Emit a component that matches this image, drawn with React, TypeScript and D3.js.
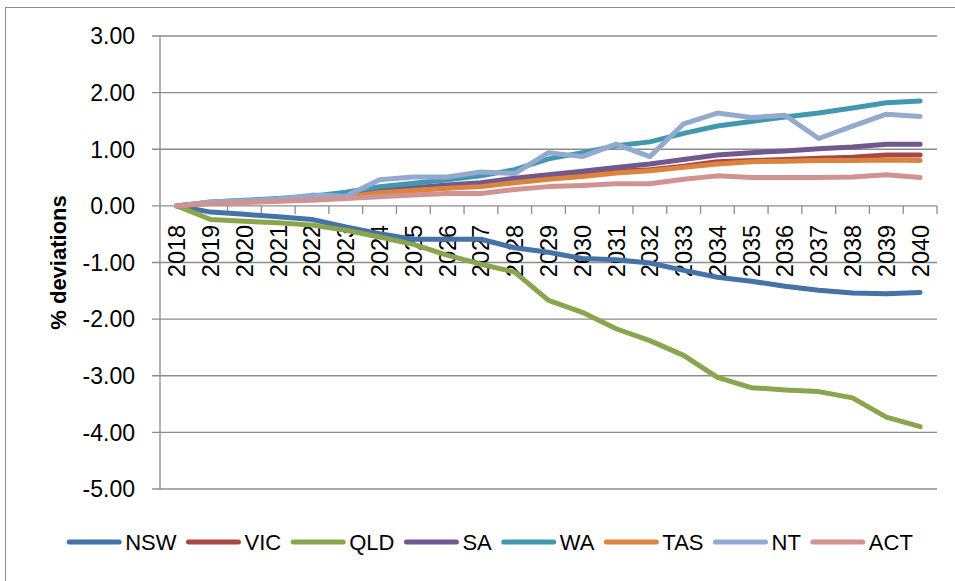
import React from "react";
import * as d3 from "d3";

const years = d3.range(2018, 2041).map(String);
const yTicks = [3, 2, 1, 0, -1, -2, -3, -4, -5];

const NSW = [0, -0.11, -0.15, -0.19, -0.24, -0.37, -0.49, -0.59, -0.59, -0.59, -0.74, -0.82, -0.93, -0.95, -1.01, -1.14, -1.26, -1.33, -1.42, -1.49, -1.54, -1.55, -1.53];
const VIC = [0, 0.05, 0.07, 0.09, 0.12, 0.17, 0.24, 0.28, 0.32, 0.36, 0.42, 0.49, 0.54, 0.61, 0.64, 0.7, 0.78, 0.8, 0.82, 0.84, 0.86, 0.9, 0.9];
const QLD = [0, -0.24, -0.27, -0.3, -0.34, -0.43, -0.55, -0.68, -0.87, -1.03, -1.17, -1.67, -1.88, -2.17, -2.38, -2.64, -3.03, -3.21, -3.25, -3.28, -3.39, -3.73, -3.9];
const SA = [0, 0.06, 0.08, 0.1, 0.13, 0.18, 0.27, 0.32, 0.37, 0.41, 0.49, 0.55, 0.61, 0.68, 0.74, 0.82, 0.9, 0.94, 0.97, 1.01, 1.04, 1.09, 1.09];
const WA = [0, 0.07, 0.1, 0.13, 0.17, 0.24, 0.34, 0.4, 0.46, 0.53, 0.64, 0.83, 0.94, 1.06, 1.13, 1.28, 1.41, 1.49, 1.57, 1.64, 1.73, 1.82, 1.85];
const TAS = [0, 0.05, 0.07, 0.09, 0.12, 0.16, 0.23, 0.27, 0.31, 0.34, 0.41, 0.47, 0.52, 0.58, 0.62, 0.68, 0.74, 0.78, 0.79, 0.8, 0.8, 0.81, 0.8];
const NT = [0, 0.07, 0.09, 0.12, 0.19, 0.17, 0.46, 0.51, 0.51, 0.6, 0.57, 0.94, 0.87, 1.09, 0.87, 1.45, 1.64, 1.56, 1.6, 1.19, 1.41, 1.62, 1.58];
const ACT = [0, 0.04, 0.06, 0.08, 0.1, 0.13, 0.16, 0.19, 0.22, 0.22, 0.29, 0.34, 0.36, 0.39, 0.39, 0.47, 0.53, 0.5, 0.5, 0.5, 0.51, 0.55, 0.5];

const seriesNames = ["NSW", "VIC", "QLD", "SA", "WA", "TAS", "NT", "ACT"];
const seriesValues = [NSW, VIC, QLD, SA, WA, TAS, NT, ACT];
const colors = ["#4572A7", "#AA4643", "#89A54E", "#71588F", "#4198AF", "#DB843D", "#93A9CF", "#D19392"];

const W = 955;
const H = 581;
const plot = { left: 160, right: 937, top: 36, bottom: 489 };
const tickFont = "'Liberation Sans', Arial, sans-serif";
const legendFont = "'Liberation Sans', Arial, sans-serif";
const legendSize = 22;

function measure(text: string, font: string): number {
  if (typeof document === "undefined") return text.length * 12;
  const c = document.createElement("canvas");
  const ctx = c.getContext("2d");
  if (!ctx) return text.length * 12;
  ctx.font = font;
  return ctx.measureText(text).width;
}

export default function App() {
  const x = d3.scaleBand<string>().domain(years).range([plot.left, plot.right]);
  const y = d3.scaleLinear().domain([-5, 3]).range([plot.bottom, plot.top]);
  const cx = (yr: string) => (x(yr) as number) + x.bandwidth() / 2;
  const line = d3
    .line<number>()
    .x((_, i) => cx(years[i]))
    .y((v) => y(v));
  const fmt = (t: number) => d3.format(".2f")(t).replace("\u2212", "-");

  // legend layout
  const lineLen = 54;
  const gapLineText = 4;
  const gapItems = 10;
  const widths = seriesNames.map((n) => measure(n, `${legendSize}px ${legendFont}`));
  const itemW = widths.map((w) => lineLen + gapLineText + w);
  const total = d3.sum(itemW) + gapItems * (seriesNames.length - 1);
  const legendCenter = 490;
  let lx = legendCenter - total / 2;
  const legendY = 542;
  const legendItems = seriesNames.map((n, i) => {
    const item = { name: n, x: lx, color: colors[i] };
    lx += itemW[i] + gapItems;
    return item;
  });

  const boundaries = d3.range(1, years.length + 1).map((k) => plot.left + k * x.bandwidth());
  const grid = "#8C8C8C";

  return (
    <svg
      width={W}
      height={H}
      style={{ position: "absolute", left: 0, top: 0, background: "#fff" }}
    >
      <rect x={0} y={0} width={W} height={H} fill="#fff" />
      <rect x={5.5} y={7.5} width={1000} height={1000} fill="none" stroke="#8C8C8C" strokeWidth={1} />
      {yTicks.map((t) => (
        <g key={t}>
          <line x1={plot.left - 8} x2={plot.right} y1={y(t)} y2={y(t)} stroke={grid} strokeWidth={1.3} />
          <text
            x={135}
            y={y(t)}
            dy="0.36em"
            textAnchor="end"
            fontFamily={tickFont}
            fontSize={23}
            fill="#000"
          >
            {fmt(t)}
          </text>
        </g>
      ))}
      <line x1={plot.left} x2={plot.left} y1={plot.top} y2={plot.bottom} stroke={grid} strokeWidth={1.3} />
      {boundaries.map((bx, i) => (
        <line key={i} x1={bx} x2={bx} y1={y(0)} y2={y(0) + 8} stroke={grid} strokeWidth={1.3} />
      ))}
      {years.map((yr) => (
        <text
          key={yr}
          transform={`translate(${cx(yr)},${y(0) + 19}) rotate(-90)`}
          dy="0.36em"
          textAnchor="end"
          fontFamily={tickFont}
          fontSize={23.5}
          fill="#000"
        >
          {yr}
        </text>
      ))}
      <text
        transform={`translate(66,${(plot.top + plot.bottom) / 2}) rotate(-90)`}
        textAnchor="middle"
        fontFamily={tickFont}
        fontWeight="bold"
        fontSize={22}
        fill="#000"
      >
        % deviations
      </text>
      {seriesValues.map((vals, i) => (
        <path
          key={seriesNames[i]}
          d={line(vals) || ""}
          fill="none"
          stroke={colors[i]}
          strokeWidth={5}
          strokeLinejoin="round"
          strokeLinecap="round"
        />
      ))}
      {legendItems.map((it) => (
        <g key={it.name}>
          <line
            x1={it.x + 2}
            x2={it.x + lineLen - 2}
            y1={legendY}
            y2={legendY}
            stroke={it.color}
            strokeWidth={5}
            strokeLinecap="round"
          />
          <text
            x={it.x + lineLen + gapLineText}
            y={legendY}
            dy="0.36em"
            fontFamily={legendFont}
            fontSize={legendSize}
            fill="#000"
          >
            {it.name}
          </text>
        </g>
      ))}
    </svg>
  );
}
